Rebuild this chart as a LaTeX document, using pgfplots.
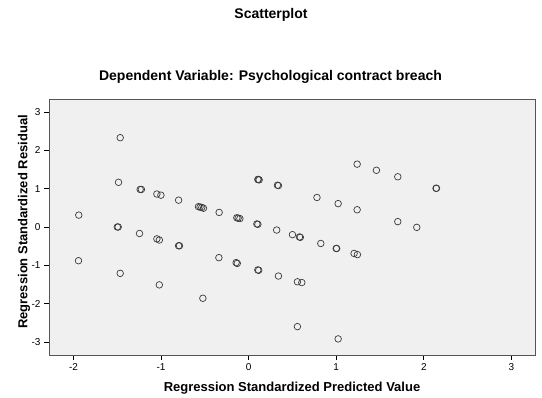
\documentclass[border=0pt]{standalone}
\usepackage{pgfplots}
\pgfplotsset{compat=1.18}
\usepackage{fontspec}
\setmainfont{Liberation Sans}
\definecolor{bgc}{HTML}{F0F0F0}
\definecolor{mk}{HTML}{3A3A3A}
\definecolor{frame}{HTML}{555555}
\begin{document}
\begin{tikzpicture}[x=1pt,y=1pt]
\path (0,0) rectangle (542,398);
\node[font=\bfseries\fontsize{14}{16}\selectfont] at (271,383) {Scatterplot};
\node[font=\bfseries\fontsize{14}{16}\selectfont] at (270.5,321) {Dependent Variable: Psychological contract breach};
\begin{axis}[
  at={(49pt,43pt)}, anchor=south west,
  scale only axis, width=486pt, height=256pt,
  xmin=-2.28, xmax=3.27, ymin=-3.34, ymax=3.34,
  axis background/.style={fill=bgc},
  axis line style={frame, line width=0.8pt},
  xtick={-2,-1,0,1,2,3}, xticklabels={-2,-1,0,1,2,3},
  ytick={-3,-2,-1,0,1,2,3}, yticklabels={-3,-2,-1,0,1,2,3},
  tick align=outside, major tick length=5pt,
  tick style={black, line width=0.7pt},
  xtick pos=bottom, ytick pos=left,
  ticklabel style={font=\fontsize{10}{12}\selectfont},
  xlabel={Regression Standardized Predicted Value},
  ylabel={Regression Standardized Residual},
  every axis x label/.style={at={(axis description cs:0.5,0)}, yshift=-33pt, anchor=center, font=\bfseries\fontsize{13}{15}\selectfont},
  every axis y label/.style={at={(axis description cs:0,0.5)}, xshift=-25pt, yshift=5pt, rotate=90, anchor=center, font=\bfseries\fontsize{13}{15}\selectfont},
]
\addplot[only marks, mark=o, mark size=3.3pt, mark options={draw=mk, line width=0.7pt}] coordinates {
(1.239,1.64) (1.459,1.48) (1.703,1.31) (2.14,1.01) (2.145,1.01)
(-1.467,2.33) (0.105,1.24) (0.11,1.24) (0.12,1.23) (0.329,1.09) (0.34,1.08)
(0.78,0.77) (1.022,0.61) (1.239,0.45) (1.703,0.14) (1.92,-0.01)
(-1.486,1.166) (-1.239,0.98) (-1.225,0.98) (-1.048,0.86) (-1.002,0.83)
(-0.80,0.70) (-0.573,0.53) (-0.555,0.52) (-0.535,0.51) (-0.516,0.49)
(-0.337,0.38) (-0.135,0.24) (-0.12,0.23) (-0.10,0.22) (0.094,0.08) (0.105,0.07)
(0.32,-0.08) (0.50,-0.20) (0.58,-0.26) (0.59,-0.27) (0.824,-0.43)
(1.0,-0.56) (1.005,-0.56) (1.204,-0.69) (1.242,-0.72)
(-1.94,0.31) (-1.50,0.0) (-1.49,0.0) (-1.246,-0.17) (-1.048,-0.31) (-1.02,-0.34)
(-0.80,-0.49) (-0.79,-0.49) (-0.34,-0.80) (-0.143,-0.93) (-0.13,-0.95)
(0.105,-1.12) (0.115,-1.13) (0.34,-1.28) (0.557,-1.43) (0.607,-1.45)
(-1.943,-0.88) (-1.467,-1.21) (-1.02,-1.51) (-0.523,-1.86) (0.557,-2.60) (1.022,-2.92)
};
\end{axis}
\end{tikzpicture}
\end{document}
